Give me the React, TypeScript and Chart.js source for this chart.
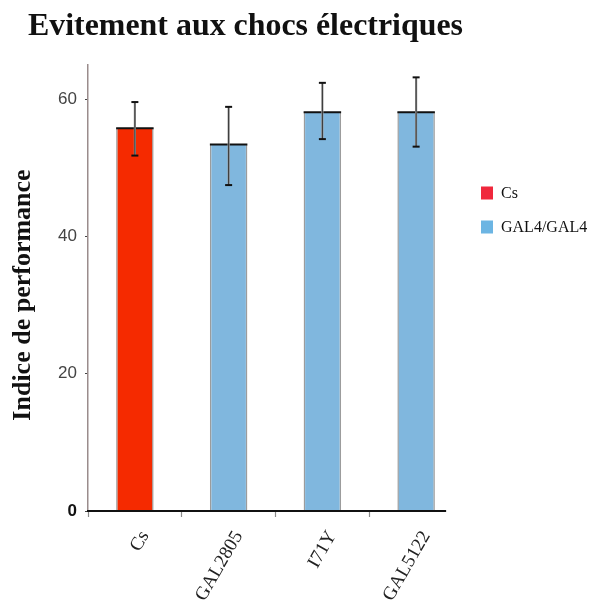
import React, { useEffect, useRef } from "react";
import { Chart, registerables } from "chart.js";

Chart.register(...registerables);

const titleText = "Evitement aux chocs électriques";
const yAxisLabel = "Indice de performance";
const categories = ["Cs", "GAL2805", "I71Y", "GAL5122"];
const means = [55.8, 53.4, 58.1, 58.1];
const errUpper = [59.6, 58.9, 62.4, 63.2];
const errLower = [51.8, 47.5, 54.2, 53.1];
const barColors = ["#f52a00", "#80b7de", "#80b7de", "#80b7de"];
const legendLabels = ["Cs", "GAL4/GAL4"];
const legendColors = ["#f0283c", "#6cb5e3"];
const yTicks = [0, 20, 40, 60];
const yMax = 65;

const serif = "'Liberation Serif', 'Times New Roman', serif";
const sans = "'Liberation Sans', Arial, sans-serif";

const extrasPlugin = {
  id: "extras",
  afterDatasetsDraw(chart: any) {
    const { ctx, chartArea, scales } = chart;
    const meta = chart.getDatasetMeta(0);
    const y = scales.y;
    ctx.save();
    // dark top edge of each bar
    meta.data.forEach((bar: any) => {
      const half = bar.width / 2;
      ctx.strokeStyle = "#111";
      ctx.lineWidth = 2;
      ctx.beginPath();
      ctx.moveTo(bar.x - half, bar.y);
      ctx.lineTo(bar.x + half, bar.y);
      ctx.stroke();
    });
    // error bars
    meta.data.forEach((bar: any, i: number) => {
      const yTop = y.getPixelForValue(errUpper[i]);
      const yBot = y.getPixelForValue(errLower[i]);
      ctx.strokeStyle = "#9a9a9a";
      ctx.lineWidth = 2.2;
      ctx.beginPath();
      ctx.moveTo(bar.x, yTop);
      ctx.lineTo(bar.x, yBot);
      ctx.stroke();
      ctx.strokeStyle = "#333";
      ctx.lineWidth = 1;
      ctx.beginPath();
      ctx.moveTo(bar.x, yTop);
      ctx.lineTo(bar.x, yBot);
      ctx.stroke();
      ctx.strokeStyle = "#111";
      ctx.lineWidth = 2;
      [yTop, yBot].forEach((yy) => {
        ctx.beginPath();
        ctx.moveTo(bar.x - 3.5, yy);
        ctx.lineTo(bar.x + 3.5, yy);
        ctx.stroke();
      });
    });
    // x baseline
    const xs = scales.x;
    const catW = (xs.right - xs.left) / categories.length;
    const endX = xs.getPixelForValue(categories.length - 1) + catW * 0.32;
    ctx.strokeStyle = "#111";
    ctx.lineWidth = 2;
    ctx.beginPath();
    ctx.moveTo(chartArea.left - 1, chartArea.bottom);
    ctx.lineTo(endX, chartArea.bottom);
    ctx.stroke();
    ctx.restore();
  },
  afterDraw(chart: any) {
    const { ctx, chartArea } = chart;
    ctx.save();
    // y-axis label
    ctx.translate(23, chartArea.bottom - 216);
    ctx.rotate(-Math.PI / 2);
    ctx.font = `bold 26px ${serif}`;
    ctx.fillStyle = "#111";
    ctx.textAlign = "center";
    ctx.textBaseline = "middle";
    ctx.fillText(yAxisLabel, 0, 0);
    ctx.restore();
    // legend
    ctx.save();
    ctx.font = `16px ${serif}`;
    ctx.textBaseline = "middle";
    ctx.textAlign = "left";
    legendLabels.forEach((lab, i) => {
      const cy = chartArea.top + 128 + i * 34;
      ctx.fillStyle = legendColors[i];
      ctx.fillRect(chartArea.right + 18, cy - 6.5, 12, 13);
      ctx.fillStyle = "#111";
      ctx.fillText(lab, chartArea.right + 38, cy + 1);
    });
    ctx.restore();
  },
};

export default function App() {
  const canvasRef = useRef<HTMLCanvasElement | null>(null);

  useEffect(() => {
    if (!canvasRef.current) return;
    const chart = new Chart(canvasRef.current, {
      type: "bar",
      data: {
        labels: categories,
        datasets: [
          {
            data: means,
            backgroundColor: barColors,
            borderColor: "#9c9c9c",
            borderWidth: { top: 0, left: 1.5, right: 1.5, bottom: 0 },
            borderSkipped: false,
            barPercentage: 0.4,
            categoryPercentage: 1,
          },
        ],
      },
      options: {
        animation: false,
        responsive: true,
        maintainAspectRatio: false,
        layout: { padding: { left: 28, right: 134, top: 0, bottom: 0 } },
        plugins: {
          legend: { display: false },
          tooltip: { enabled: false },
          title: {
            display: true,
            text: titleText,
            align: "start",
            color: "#111",
            font: { family: serif, size: 32, weight: "bold", lineHeight: 1.2 },
            padding: { top: 8, bottom: 18.6 },
          },
        },
        scales: {
          x: {
            border: { display: false },
            grid: {
              offset: true,
              drawOnChartArea: false,
              tickLength: 6,
              tickWidth: 1.2,
              tickColor: (c: any) => (c.type === "tick" ? "#8a8a8a" : "rgba(0,0,0,0)"),
            },
            ticks: {
              maxRotation: 60,
              minRotation: 60,
              color: "#222",
              font: { family: serif, size: 19 },
              padding: 10,
              labelOffset: 10,
            },
            afterFit: (s: any) => {
              s.height = 96;
            },
          },
          y: {
            min: 0,
            max: yMax,
            border: { display: true, color: "#9a8c8c", width: 1.5 },
            grid: {
              drawOnChartArea: false,
              tickLength: 3,
              tickColor: "#444",
            },
            afterBuildTicks: (s: any) => {
              s.ticks = yTicks.map((v) => ({ value: v }));
            },
            ticks: {
              color: (c: any) => (c.tick && c.tick.value === 0 ? "#111" : "#444"),
              font: (c: any) => ({
                family: sans,
                size: 17,
                weight: c.tick && c.tick.value === 0 ? "bold" : "normal",
              }),
              padding: 8,
            },
            afterFit: (s: any) => {
              s.width = 60;
            },
          },
        },
      },
      plugins: [extrasPlugin],
    });
    return () => chart.destroy();
  }, []);

  return (
    <div style={{ position: "fixed", left: 0, top: 0, width: 597, height: 607, background: "#fff" }}>
      <canvas ref={canvasRef} />
    </div>
  );
}
